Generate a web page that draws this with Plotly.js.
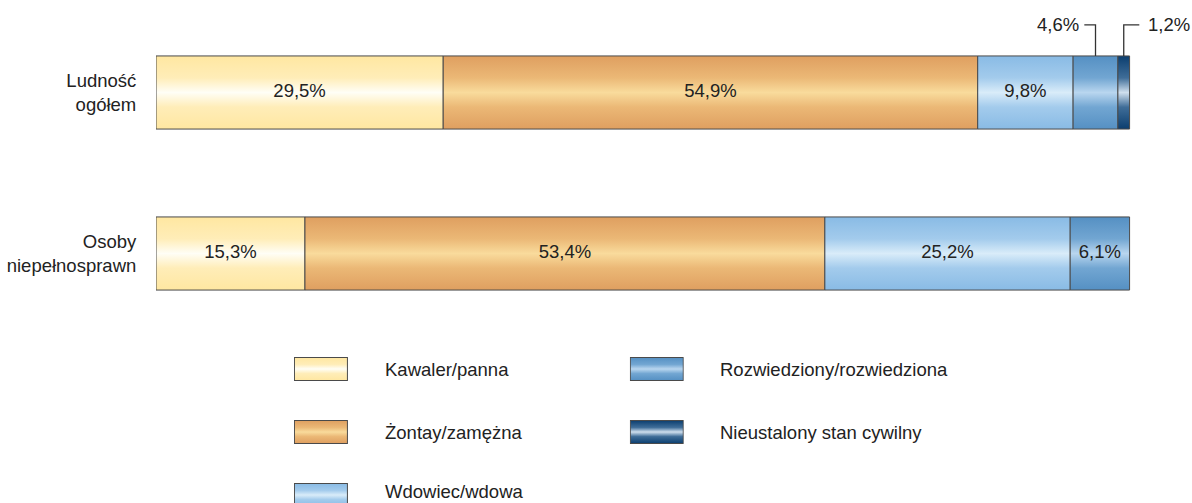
<!DOCTYPE html>
<html>
<head>
<meta charset="utf-8">
<script src="https://cdn.plot.ly/plotly-3.0.1.min.js"></script>
<style>html,body{margin:0;padding:0;background:#fff;}#chart{width:1192px;height:503px;}</style>
</head>
<body>
<div id="chart"></div>
<script>
// ---- data ----
const categories = ['Ludność<br>ogółem', 'Osoby<br>niepełnosprawn'];
const seriesNames = ['Kawaler/panna', 'Żontay/zamężna', 'Wdowiec/wdowa', 'Rozwiedziony/rozwiedziona', 'Nieustalony stan cywilny'];
const kawaler = [29.5, 15.3];
const zonaty = [54.9, 53.4];
const wdowiec = [9.8, 25.2];
const rozwiedziony = [4.6, 6.1];
const nieustalony = [1.2, 0];
const seriesValues = [kawaler, zonaty, wdowiec, rozwiedziony, nieustalony];

// ---- styles ----
const edgeColors = ['#FFE7A1', '#DF9F60', '#89BBE5', '#5590C3', '#0B3E6F'];
const midColors  = ['#FFEDB8', '#EBB876', '#A3CBEC', '#72A6D2', '#3F6D98'];
const hiColors   = ['#FFFEF6', '#F9DB9C', '#D9ECF9', '#B9D6EF', '#CFDFEE'];
const FONT = "'Liberation Sans', Arial, sans-serif";
const FS = 18.5;
const yPos = [1, 0];
const H = 0.227;
const XMAX = 106;

function scale(i) {
  return [[0, edgeColors[i]], [0.3, midColors[i]], [0.5, hiColors[i]], [0.7, midColors[i]], [1, edgeColors[i]]];
}
function fmt(v) { return v.toFixed(1).replace('.', ',') + '%'; }

const traces = [];
const shapes = [];
const annotations = [];
const lblX = [], lblY = [], lblT = [];

categories.forEach((cat, c) => {
  let start = 0;
  let smallIdx = 0;
  seriesValues.forEach((vals, s) => {
    const v = vals[c];
    if (v <= 0) return;
    const a = start, b = start + v, y = yPos[c];
    traces.push({
      type: 'scatter', mode: 'lines',
      x: [a, b, b, a, a],
      y: [y - H, y - H, y + H, y + H, y - H],
      fill: 'toself',
      fillcolor: midColors[s],
      fillgradient: {type: 'vertical', colorscale: scale(s)},
      line: {color: '#4a4a4a', width: 1},
      hoverinfo: 'skip', showlegend: false
    });
    const mid = (a + b) / 2;
    if (v >= 5) {
      lblX.push(mid); lblY.push(y); lblT.push(fmt(v));
    } else {
      const dir = smallIdx === 0 ? -1 : 1;
      const arm = dir < 0 ? 1.15 : 1.6;
      const yTop = y + 0.42;
      const xEnd = mid + dir * arm;
      shapes.push({
        type: 'path', xref: 'x', yref: 'y',
        path: `M ${mid},${y + H} L ${mid},${yTop} L ${xEnd},${yTop}`,
        line: {color: '#333', width: 1.3}
      });
      annotations.push({
        x: xEnd, y: yTop, xref: 'x', yref: 'y', text: fmt(v), showarrow: false,
        xanchor: dir < 0 ? 'right' : 'left', xshift: dir < 0 ? -3 : 7,
        font: {family: FONT, size: FS, color: '#222'}
      });
      smallIdx++;
    }
    start = b;
  });
});

traces.push({
  type: 'scatter', mode: 'text', x: lblX, y: lblY, text: lblT,
  textposition: 'middle center',
  textfont: {family: FONT, size: FS, color: '#222'},
  hoverinfo: 'skip', showlegend: false
});

// ---- custom legend (gradient swatches) ----
const W = 1192, HT = 503, ML = 156, MT = 12, MB = 169;
const pw = 974 * XMAX / 100;
const MR = W - ML - pw;
const ph = HT - MT - MB;
function px2x(px) { return (px - ML) / pw; }
function py2y(py) { return (HT - MB - py) / ph; }
function swatch(i) {
  const svg = `<svg xmlns='http://www.w3.org/2000/svg' width='54' height='24' viewBox='0 0 54 24' preserveAspectRatio='none'>` +
    `<defs><linearGradient id='g' x1='0' y1='0' x2='0' y2='1'>` +
    `<stop offset='0' stop-color='${edgeColors[i]}'/><stop offset='0.3' stop-color='${midColors[i]}'/>` +
    `<stop offset='0.5' stop-color='${hiColors[i]}'/><stop offset='0.7' stop-color='${midColors[i]}'/>` +
    `<stop offset='1' stop-color='${edgeColors[i]}'/></linearGradient></defs>` +
    `<rect x='0.5' y='0.5' width='53' height='23' fill='url(#g)' stroke='#4a4a4a' stroke-width='1'/></svg>`;
  return 'data:image/svg+xml;charset=utf-8,' + encodeURIComponent(svg);
}
// [swatch left px, text left px, swatch centre px, text centre px]
const legendPos = [[294, 384, 369, 369], [294, 384, 432, 432], [294, 384, 495, 491], [630, 719, 369, 369], [630, 719, 432, 432]];
const images = [];
seriesNames.forEach((name, i) => {
  const [sx, tx, cy, ty] = legendPos[i];
  images.push({
    source: swatch(i), xref: 'paper', yref: 'paper',
    x: px2x(sx), y: py2y(cy - 12), sizex: 54 / pw, sizey: 24 / ph,
    xanchor: 'left', yanchor: 'top', sizing: 'stretch', layer: 'above'
  });
  annotations.push({
    x: px2x(tx), y: py2y(ty), xref: 'paper', yref: 'paper', text: name,
    showarrow: false, xanchor: 'left', yanchor: 'middle', borderpad: 0,
    font: {family: FONT, size: FS, color: '#222'}
  });
});

const layout = {
  width: W, height: HT,
  margin: {l: ML, r: MR, t: MT, b: MB},
  paper_bgcolor: '#fff', plot_bgcolor: '#fff',
  showlegend: false,
  font: {family: FONT, size: FS, color: '#222'},
  xaxis: {range: [0, XMAX], visible: false, fixedrange: true},
  yaxis: {
    range: [-0.5, 1.5], tickvals: yPos, ticktext: categories,
    showgrid: false, zeroline: false, showline: false,
    ticks: 'outside', ticklen: 15, tickcolor: 'rgba(0,0,0,0)',
    tickfont: {family: FONT, size: FS, color: '#222'}, fixedrange: true
  },
  shapes: shapes,
  annotations: annotations,
  images: images
};

Plotly.newPlot('chart', traces, layout, {displayModeBar: false, staticPlot: true});
</script>
</body>
</html>
